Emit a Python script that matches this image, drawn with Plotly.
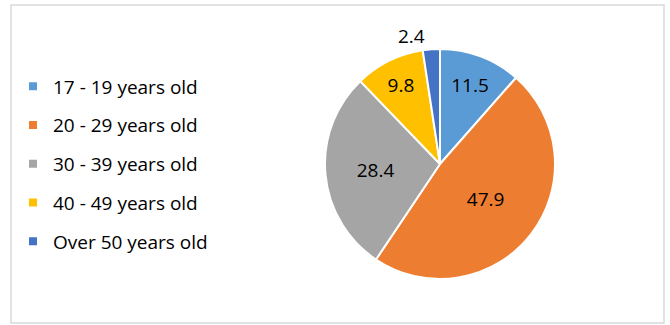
import plotly.graph_objects as go

categories = ["17 - 19 years old", "20 - 29 years old", "30 - 39 years old",
              "40 - 49 years old", "Over 50 years old"]
values = [11.5, 47.9, 28.4, 9.8, 2.4]
colors = ["#5B9BD5", "#ED7D31", "#A5A5A5", "#FFC000", "#4472C4"]
text_positions = ["inside", "inside", "inside", "inside", "outside"]

W, H = 670, 325
FONT = "Open Sans"

fig = go.Figure()

fig.add_trace(go.Pie(
    labels=categories,
    values=values,
    text=[f"{v:.1f}" for v in values],
    textinfo="text",
    textposition=text_positions,
    insidetextorientation="horizontal",
    textfont=dict(family=FONT, size=19, color="#000000"),
    marker=dict(colors=colors, line=dict(color="#FFFFFF", width=2)),
    sort=False,
    direction="clockwise",
    rotation=0,
    showlegend=False,
    hoverinfo="label+value",
    domain=dict(x=[(440 - 115) / W, (440 + 115) / W],
                y=[1 - (164 + 115) / H, 1 - (164 - 115) / H]),
))

# legend entries (square markers) mirroring the pie slices
for i, (cat, col) in enumerate(zip(categories, colors)):
    fig.add_trace(go.Scatter(
        x=[None], y=[None], mode="markers", name=cat,
        legendgroup=f"g{i}",
        marker=dict(symbol="square", size=8, color=col),
    ))

fig.update_layout(
    width=W, height=H,
    margin=dict(l=0, r=0, t=0, b=0),
    paper_bgcolor="#FFFFFF",
    plot_bgcolor="#FFFFFF",
    xaxis=dict(visible=False, domain=[0, 1]),
    yaxis=dict(visible=False, domain=[0, 1]),
    legend=dict(
        x=13 / W, xanchor="left",
        y=1 - 164 / H, yanchor="middle",
        font=dict(family=FONT, size=19, color="#000000"),
        tracegroupgap=11,
        bgcolor="rgba(0,0,0,0)",
    ),
    shapes=[dict(type="rect", xref="paper", yref="paper",
                 x0=11 / W, x1=664 / W, y0=1 - 323 / H, y1=1 - 5 / H,
                 line=dict(color="#D9D9D9", width=1.5),
                 fillcolor="rgba(0,0,0,0)", layer="below")],
)

fig.write_html("out.html")
